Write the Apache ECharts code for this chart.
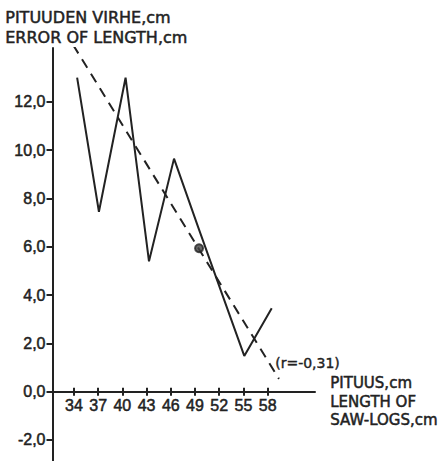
<!DOCTYPE html>
<html>
<head>
<meta charset="utf-8">
<script src="https://cdn.jsdelivr.net/npm/echarts@6/dist/echarts.min.js"></script>
<style>
html,body{margin:0;padding:0;background:#fff;}
#chart{width:441px;height:461px;}
</style>
</head>
<body>
<div id="chart"></div>
<script>
// Observed data (length class, error of length)
const lengthX = [34.4, 37.1, 40.4, 43.3, 46.4, 49.4, 52.4, 55.1, 58.5];
const errorY  = [13.0, 7.45, 13.0, 5.4, 9.65, 6.8, 4.0, 1.48, 3.45];
// Regression line end points and mean point
const regX = [33.9, 59.4];
const regY = [14.36, 0.53];
const meanPoint = [49.5, 5.94];
// Tick labels
const xTicks = [34, 37, 40, 43, 46, 49, 52, 55, 58];
const yTicks = [-2, 0, 2, 4, 6, 8, 10, 12];
const yTitle = ['PITUUDEN VIRHE,cm', 'ERROR OF LENGTH,cm'];
const xTitle = ['PITUUS,cm', 'LENGTH OF', 'SAW-LOGS,cm'];
const rLabel = '(r=-0,31)';

const ink = '#222';
const font = 'Liberation Sans';
const tfont = 'DejaVu Sans';

const chart = echarts.init(document.getElementById('chart'), null, {renderer: 'svg'});
const X_MIN = 31.35, X_MAX = 63.86;
const Y_MIN = -2.87, Y_MAX = 14.23;
const G = {left: 52.5, right: 126, top: 48, bottom: 0};
const zeroFromBottom = 69.3; // distance of y=0 from the bottom edge
const heavy = {textBorderColor: ink, textBorderWidth: 0.5};
chart.setOption({
  animation: false,
  backgroundColor: '#fff',
  grid: [
    {left: G.left, right: G.right, top: G.top, bottom: G.bottom, containLabel: false, outerBoundsMode: 'none'},
    {left: G.left, right: G.right, top: G.top, bottom: zeroFromBottom, containLabel: false, outerBoundsMode: 'none'},
    {left: G.left, right: G.right, top: 461 - zeroFromBottom, bottom: G.bottom, containLabel: false, outerBoundsMode: 'none'}
  ],
  xAxis: [
    {type: 'value', gridIndex: 0, min: X_MIN, max: X_MAX, show: false},
    {
      type: 'value', gridIndex: 1, min: X_MIN, max: X_MAX, position: 'bottom',
      splitLine: {show: false},
      axisLine: {show: true, onZero: false, lineStyle: {color: ink, width: 2}},
      axisTick: {show: true, inside: true, length: 4, customValues: xTicks, lineStyle: {color: ink, width: 2}},
      axisLabel: Object.assign({show: true, customValues: xTicks, margin: 6, color: ink, fontFamily: font, fontSize: 16,
        formatter: v => String(v)}, heavy)
    },
    {
      type: 'value', gridIndex: 2, min: X_MIN, max: X_MAX, position: 'top',
      splitLine: {show: false},
      axisLine: {show: false, onZero: false},
      axisTick: {show: true, inside: true, length: 4, customValues: xTicks, lineStyle: {color: ink, width: 2}},
      axisLabel: {show: false}
    }
  ],
  yAxis: [
    {
      type: 'value', gridIndex: 0, min: Y_MIN, max: Y_MAX,
      splitLine: {show: false},
      axisLine: {show: true, onZero: false, lineStyle: {color: ink, width: 2}},
      axisTick: {show: true, inside: false, length: 6, customValues: yTicks, lineStyle: {color: ink, width: 2}},
      axisLabel: Object.assign({show: true, customValues: yTicks, margin: 7, color: ink, fontFamily: font, fontSize: 16,
        formatter: v => v.toFixed(1).replace('.', ',')}, heavy)
    },
    {type: 'value', gridIndex: 1, min: 0, max: Y_MAX, show: false},
    {type: 'value', gridIndex: 2, min: Y_MIN, max: 0, show: false}
  ],
  series: [
    {
      type: 'line', xAxisIndex: 0, yAxisIndex: 0,
      data: lengthX.map((x, i) => [x, errorY[i]]),
      showSymbol: false, symbol: 'none',
      lineStyle: {color: ink, width: 2},
      z: 3
    },
    {
      type: 'line', xAxisIndex: 0, yAxisIndex: 0,
      data: regX.map((x, i) => [x, regY[i]]),
      showSymbol: false, symbol: 'none',
      lineStyle: {color: ink, width: 2, type: [10, 7]},
      z: 2
    },
    {
      type: 'scatter', xAxisIndex: 0, yAxisIndex: 0,
      data: [meanPoint],
      symbol: 'circle', symbolSize: 8,
      itemStyle: {color: '#444', borderColor: ink, borderWidth: 2},
      z: 4
    }
  ],
  graphic: [
    {type: 'text', left: 5, top: 7, style: {text: yTitle.join('\n'), fill: ink, stroke: ink, lineWidth: 0.5, font: '16px "' + tfont + '"', lineHeight: 20}},
    {type: 'text', left: 330, top: 374, style: {text: xTitle.join('\n'), fill: ink, stroke: ink, lineWidth: 0.5, font: '15px "' + tfont + '"', lineHeight: 18.5}},
    {type: 'text', left: 275, top: 356, style: {text: rLabel, fill: ink, stroke: ink, lineWidth: 0.4, font: '14px "' + tfont + '"'}}
  ]
});
</script>
</body>
</html>
